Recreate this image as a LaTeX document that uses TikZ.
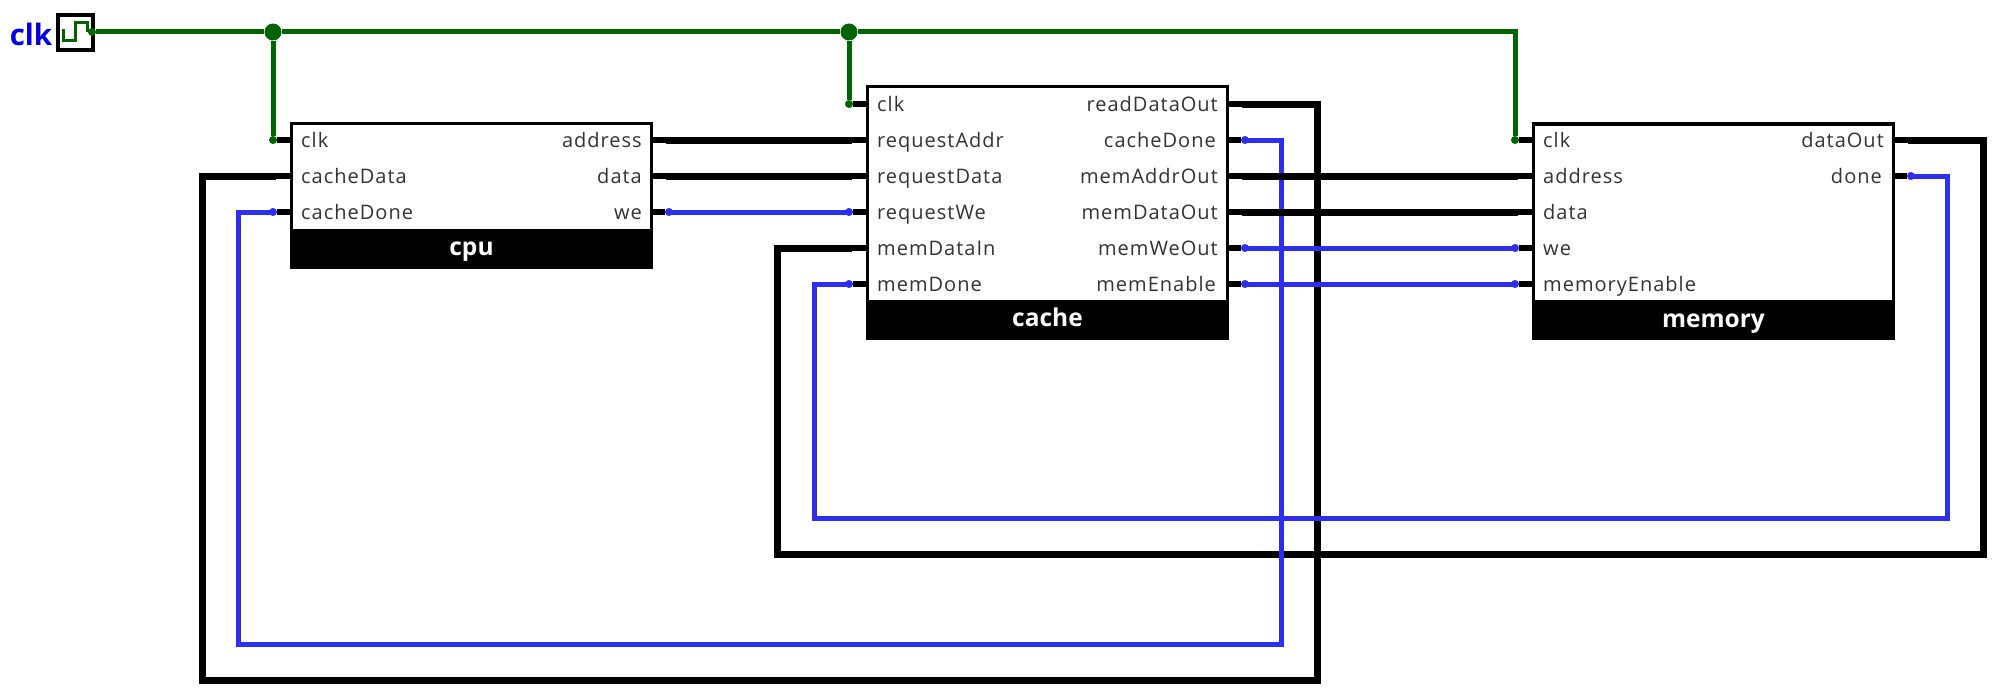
\documentclass[tikz,border=0pt]{standalone}
\usepackage{fontspec}
\setmainfont{Open Sans}
\newfontfamily\lblfont[LetterSpace=5]{Open Sans}
\usepackage{tikz}
\usetikzlibrary{positioning}
\definecolor{wireblue}{RGB}{46,46,240}
\definecolor{wiregreen}{RGB}{0,100,0}
\definecolor{textgrey}{RGB}{51,51,51}
\tikzset{
  modbox/.style={
    draw,
    fill=white,
    line width=3.5pt,
    inner sep=0pt,
    outer sep=0pt,
    minimum width=360pt
  },
  modname/.style={
    fill=black,
    text=white,
    font=\fontsize{24.5}{28}\selectfont\bfseries,
    inner sep=0pt,
    outer sep=0pt,
    text height=17pt,
    text depth=5pt,
    minimum width=363.5pt,
    minimum height=38pt
  },
  lbl/.style={
    text=textgrey,
    font=\lblfont\fontsize{20}{24}\selectfont,
    inner sep=0pt
  },
  lbl in/.style={lbl,anchor=base west},
  lbl out/.style={lbl,anchor=base east},
  pin/.style={
    circle,
    inner sep=0pt,
    minimum size=8pt
  },
  pin bit/.style={pin,fill=wireblue},
  pin clk/.style={pin,fill=wiregreen},
  pin bus/.style={pin,minimum size=0pt},
  stub/.style={line width=6pt},
  bus/.style={line width=7pt,line cap=rect},
  bit/.style={line width=5pt,wireblue,line cap=rect},
  clkwire/.style={line width=5pt,wiregreen},
  junction/.style={circle,fill=wiregreen,inner sep=0pt,minimum size=17pt}
}
\begin{document}
\begin{tikzpicture}[x=1pt,y=-1pt]
 \useasboundingbox (0,0) rectangle (1996,693);

 % modules
 \node[modbox,minimum height=107pt] (cpu) at (471.5,177) {};
 \node[modname,below=0pt of cpu] (cpu_name) {cpu};
 \node[modbox,minimum height=215pt] (cache) at (1047.5,194) {};
 \node[modname,below=0pt of cache] (cache_name) {cache};
 \node[modbox,minimum height=178pt] (memory) at (1713.5,213) {};
 \node[modname,below=0pt of memory] (memory_name) {memory};

 % clock source
 \node[draw,fill=white,line width=3.5pt,minimum size=35pt,inner sep=0pt] (clk_box) at (75.5,32.5) {};
 \node[anchor=base east,text=blue!90!black,inner sep=0pt,font=\fontsize{29.5}{32}\selectfont\bfseries] (clk_name) at (52.5,46) {clk};
 \draw[line width=3pt,wiregreen] (63.5,29) -- (63.5,41) -- (75,41) -- (75,23) -- (87,23) -- (87,32);

 % cpu ports
 \node[lbl in] (cpu_clk) at (301,147) {clk};
 \node[lbl in] (cpu_cacheData) at (301,183) {cacheData};
 \node[lbl in] (cpu_cacheDone) at (301,219) {cacheDone};
 \node[lbl out] (cpu_address) at (642,147) {address};
 \node[lbl out] (cpu_data) at (642,183) {data};
 \node[lbl out] (cpu_we) at (642,219) {we};

 % cache ports
 \node[lbl in] (cache_clk) at (877,111) {clk};
 \node[lbl in] (cache_requestAddr) at (877,147) {requestAddr};
 \node[lbl in] (cache_requestData) at (877,183) {requestData};
 \node[lbl in] (cache_requestWe) at (877,219) {requestWe};
 \node[lbl in] (cache_memDataIn) at (877,255) {memDataIn};
 \node[lbl in] (cache_memDone) at (877,291) {memDone};
 \node[lbl out] (cache_readDataOut) at (1218,111) {readDataOut};
 \node[lbl out] (cache_cacheDone) at (1216,147) {cacheDone};
 \node[lbl out] (cache_memAddrOut) at (1218,183) {memAddrOut};
 \node[lbl out] (cache_memDataOut) at (1218,219) {memDataOut};
 \node[lbl out] (cache_memWeOut) at (1218,255) {memWeOut};
 \node[lbl out] (cache_memEnable) at (1216,291) {memEnable};

 % memory ports
 \node[lbl in] (memory_clk) at (1543,147) {clk};
 \node[lbl in] (memory_address) at (1543,183) {address};
 \node[lbl in] (memory_data) at (1543,219) {data};
 \node[lbl in] (memory_we) at (1543,255) {we};
 \node[lbl in] (memory_memoryEnable) at (1543,291) {memoryEnable};
 \node[lbl out] (memory_dataOut) at (1884,147) {dataOut};
 \node[lbl out] (memory_done) at (1882,183) {done};

 % pins, the ends of the stubs
 \node[pin clk] (p_clk_out) at (92,32) {};
 \node[pin clk] (p_cpu_clk) at (273,140) {};
 \node[pin bus] (p_cpu_cacheData) at (273,176) {};
 \node[pin bit] (p_cpu_cacheDone) at (273,212) {};
 \node[pin bus] (p_cpu_address) at (669,140) {};
 \node[pin bus] (p_cpu_data) at (669,176) {};
 \node[pin bit] (p_cpu_we) at (669,212) {};
 \node[pin clk] (p_cache_clk) at (849,104) {};
 \node[pin bus] (p_cache_requestAddr) at (849,140) {};
 \node[pin bus] (p_cache_requestData) at (849,176) {};
 \node[pin bit] (p_cache_requestWe) at (849,212) {};
 \node[pin bus] (p_cache_memDataIn) at (849,248) {};
 \node[pin bit] (p_cache_memDone) at (849,284) {};
 \node[pin bus] (p_cache_readDataOut) at (1245,104) {};
 \node[pin bit] (p_cache_cacheDone) at (1245,140) {};
 \node[pin bus] (p_cache_memAddrOut) at (1245,176) {};
 \node[pin bus] (p_cache_memDataOut) at (1245,212) {};
 \node[pin bit] (p_cache_memWeOut) at (1245,248) {};
 \node[pin bit] (p_cache_memEnable) at (1245,284) {};
 \node[pin clk] (p_memory_clk) at (1515,140) {};
 \node[pin bus] (p_memory_address) at (1515,176) {};
 \node[pin bus] (p_memory_data) at (1515,212) {};
 \node[pin bit] (p_memory_we) at (1515,248) {};
 \node[pin bit] (p_memory_memoryEnable) at (1515,284) {};
 \node[pin bus] (p_memory_dataOut) at (1911,140) {};
 \node[pin bit] (p_memory_done) at (1911,176) {};

 % stubs
 \path[stub,draw]
  (p_cpu_clk) -- (cpu.west |- p_cpu_clk)
  (p_cpu_cacheData) -- (cpu.west |- p_cpu_cacheData)
  (p_cpu_cacheDone) -- (cpu.west |- p_cpu_cacheDone)
  (p_cpu_address) -- (cpu.east |- p_cpu_address)
  (p_cpu_data) -- (cpu.east |- p_cpu_data)
  (p_cpu_we) -- (cpu.east |- p_cpu_we)
  (p_cache_clk) -- (cache.west |- p_cache_clk)
  (p_cache_requestAddr) -- (cache.west |- p_cache_requestAddr)
  (p_cache_requestData) -- (cache.west |- p_cache_requestData)
  (p_cache_requestWe) -- (cache.west |- p_cache_requestWe)
  (p_cache_memDataIn) -- (cache.west |- p_cache_memDataIn)
  (p_cache_memDone) -- (cache.west |- p_cache_memDone)
  (p_cache_readDataOut) -- (cache.east |- p_cache_readDataOut)
  (p_cache_cacheDone) -- (cache.east |- p_cache_cacheDone)
  (p_cache_memAddrOut) -- (cache.east |- p_cache_memAddrOut)
  (p_cache_memDataOut) -- (cache.east |- p_cache_memDataOut)
  (p_cache_memWeOut) -- (cache.east |- p_cache_memWeOut)
  (p_cache_memEnable) -- (cache.east |- p_cache_memEnable)
  (p_memory_clk) -- (memory.west |- p_memory_clk)
  (p_memory_address) -- (memory.west |- p_memory_address)
  (p_memory_data) -- (memory.west |- p_memory_data)
  (p_memory_we) -- (memory.west |- p_memory_we)
  (p_memory_memoryEnable) -- (memory.west |- p_memory_memoryEnable)
  (p_memory_dataOut) -- (memory.east |- p_memory_dataOut)
  (p_memory_done) -- (memory.east |- p_memory_done);

 % bends of the long wires
 \coordinate (b_read_a) at (1317,104);
 \coordinate (b_read_b) at (1317,680);
 \coordinate (b_read_c) at (202,680);
 \coordinate (b_read_d) at (202,176);
 \coordinate (b_done_a) at (1281,140);
 \coordinate (b_done_b) at (1281,644);
 \coordinate (b_done_c) at (238,644);
 \coordinate (b_done_d) at (238,212);
 \coordinate (b_mem_a) at (1983,140);
 \coordinate (b_mem_b) at (1983,554);
 \coordinate (b_mem_c) at (777,554);
 \coordinate (b_mem_d) at (777,248);
 \coordinate (b_memdone_a) at (1947,176);
 \coordinate (b_memdone_b) at (1947,518);
 \coordinate (b_memdone_c) at (814,518);
 \coordinate (b_memdone_d) at (814,284);

 % clock net
 \node[junction] (j_cpu) at (273,32) {};
 \node[junction] (j_cache) at (849,32) {};
 \coordinate (b_clk) at (1515,32);
 \draw[clkwire] (p_clk_out) -- (j_cpu) -- (j_cache) -- (b_clk) -- (p_memory_clk);
 \draw[clkwire] (j_cpu) -- (p_cpu_clk);
 \draw[clkwire] (j_cache) -- (p_cache_clk);

 % wires, in the order they overlap
 \draw[bus] (p_cache_readDataOut) -- (b_read_a) -- (b_read_b) -- (b_read_c) -- (b_read_d) -- (p_cpu_cacheData);
 \draw[bus] (p_memory_dataOut) -- (b_mem_a) -- (b_mem_b) -- (b_mem_c) -- (b_mem_d) -- (p_cache_memDataIn);
 \draw[bit] (p_cache_cacheDone) -- (b_done_a) -- (b_done_b) -- (b_done_c) -- (b_done_d) -- (p_cpu_cacheDone);
 \draw[bit] (p_memory_done) -- (b_memdone_a) -- (b_memdone_b) -- (b_memdone_c) -- (b_memdone_d) -- (p_cache_memDone);
 \draw[bus] (p_cpu_address) -- (p_cache_requestAddr);
 \draw[bus] (p_cpu_data) -- (p_cache_requestData);
 \draw[bit] (p_cpu_we) -- (p_cache_requestWe);
 \draw[bus] (p_cache_memAddrOut) -- (p_memory_address);
 \draw[bus] (p_cache_memDataOut) -- (p_memory_data);
 \draw[bit] (p_cache_memWeOut) -- (p_memory_we);
 \draw[bit] (p_cache_memEnable) -- (p_memory_memoryEnable);
\end{tikzpicture}
\end{document}
